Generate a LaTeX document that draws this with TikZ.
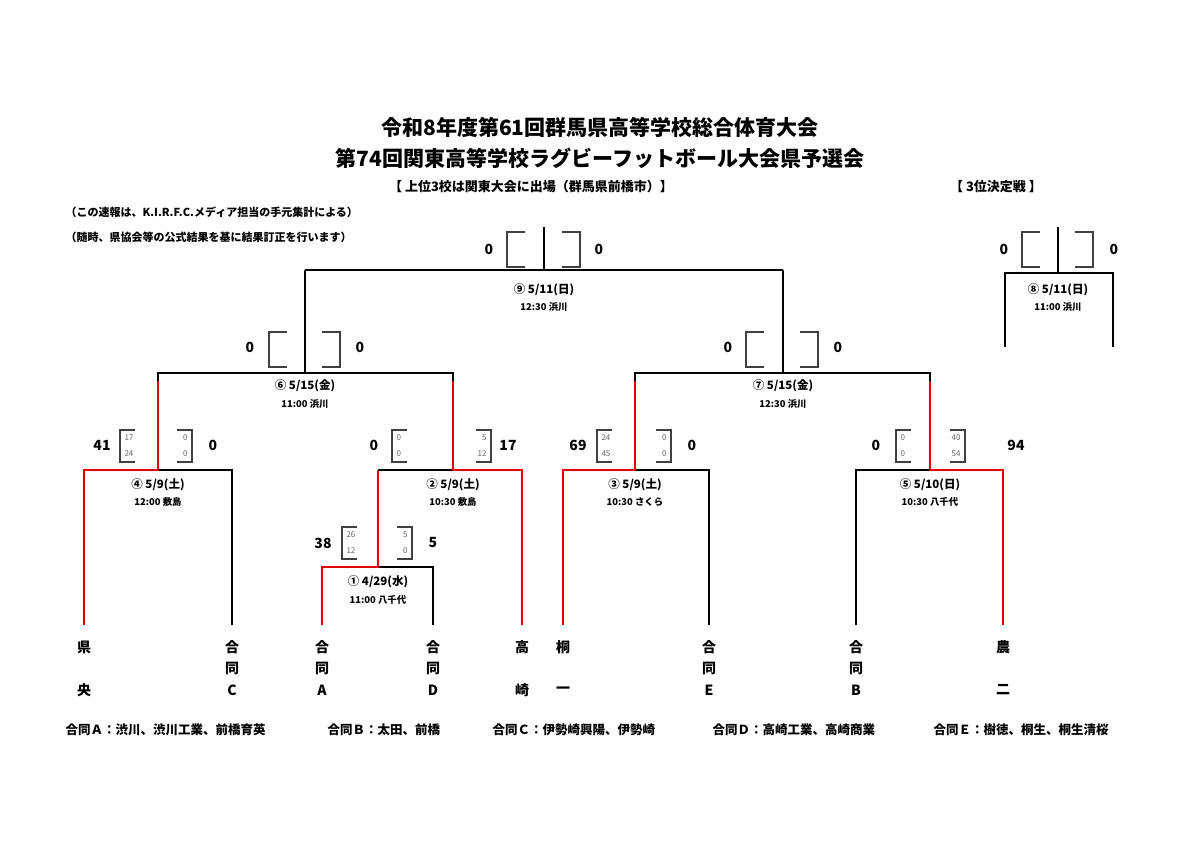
\documentclass[tikz,border=0pt]{standalone}
\usepackage{fontspec}
\setmainfont{Noto Sans CJK JP}
\usepackage{tikz}
\usetikzlibrary{positioning}

\tikzset{
  line/.style={black, line width=1.8pt},
  win/.style={red!90!black, line width=2.6pt},
  box/.style={black!75, line width=1.2pt},
  score/.style={font=\fontsize{14}{14}\selectfont\bfseries},
  small/.style={font=\fontsize{8}{8}\selectfont, text=black!60},
  match/.style={font=\fontsize{11.5}{12}\selectfont\bfseries},
  info/.style={font=\fontsize{9.4}{10}\selectfont\bfseries},
  leaf/.style={font=\fontsize{14}{14}\selectfont\bfseries},
  note/.style={font=\fontsize{12.5}{13}\selectfont\bfseries, anchor=west},
  head/.style={font=\fontsize{11}{12}\selectfont\bfseries, anchor=west},
}

\begin{document}
\begin{tikzpicture}[x=1pt, y=-1pt]
\useasboundingbox[fill=white] (0,0) rectangle (1200,848);

% titles
\node[font=\fontsize{21}{22}\selectfont\bfseries] (t1) at (600,127) {令和8年度第61回群馬県高等学校総合体育大会};
\node[font=\fontsize{21}{22}\selectfont\bfseries] (t2) at (600,158) {第74回関東高等学校ラグビーフットボール大会県予選会};
\node[font=\fontsize{13}{13}\selectfont\bfseries] (sub1) at (531,187) {【 上位3校は関東大会に出場（群馬県前橋市）】};
\node[font=\fontsize{13}{13}\selectfont\bfseries] (sub2) at (996,187) {【 3位決定戦 】};
\node[head] (n1) at (62,212) {（この速報は、K.I.R.F.C.メディア担当の手元集計による）};
\node[head] (n2) at (62,237) {（随時、県協会等の公式結果を基に結果訂正を行います）};

% first round and quarter finals
\draw[line] (232,625) -- (232,470) -- (158,470);
\draw[win] (84,625) -- (84,470) -- (158,470) -- (158,381);
\draw[line] (433,625) -- (433,567) -- (378,567);
\draw[win] (322,625) -- (322,567) -- (378,567) -- (378,470);
\draw[line] (378,470) -- (453,470);
\draw[win] (522,625) -- (522,470) -- (453,470) -- (453,381);
\draw[line] (709,625) -- (709,470) -- (635,470);
\draw[win] (563,625) -- (563,470) -- (635,470) -- (635,381);
\draw[line] (856,625) -- (856,470) -- (930,470);
\draw[win] (1003,625) -- (1003,470) -- (930,470) -- (930,381);

% semi finals and final
\draw[line] (158,381) -- (158,373) -- (453,373) -- (453,381);
\draw[line] (305,373) -- (305,270);
\draw[line] (635,381) -- (635,373) -- (930,373) -- (930,381);
\draw[line] (783,373) -- (783,270);
\draw[line] (305,270) -- (783,270);
\draw[line] (544,270) -- (544,227);
% third place
\draw[line] (1005,347) -- (1005,273) -- (1113,273) -- (1113,347);
\draw[line] (1058,273) -- (1058,227);

% large brackets
\foreach \l/\r/\y in {507/562/232, 269/322/332, 746/800/332, 1022/1075/232}
{
\draw[box] (\l+18,\y) -- (\l,\y) -- (\l,\y+35) -- (\l+18,\y+35);
\draw[box] (\r,\y) -- (\r+18,\y) -- (\r+18,\y+35) -- (\r,\y+35);
}
% small brackets
\foreach \l/\r/\y/\a/\b/\c/\d in {120/177/430/17/24/0/0, 392/476/430/0/0/5/12, 597/656/430/24/45/0/0, 896/950/430/0/0/40/54, 342/397/527/26/12/5/0}
{
\draw[box] (\l+15,\y) -- (\l,\y) -- (\l,\y+32) -- (\l+15,\y+32);
\draw[box] (\r,\y) -- (\r+15,\y) -- (\r+15,\y+32) -- (\r,\y+32);
\node[small, anchor=west] at (\l+1,\y+8) {\a};
\node[small, anchor=west] at (\l+1,\y+24) {\b};
\node[small, anchor=east] at (\r+14,\y+8) {\c};
\node[small, anchor=east] at (\r+14,\y+24) {\d};
}

% scores
\node[score] (s9a) at (489,249) {0};
\node[score] (s9b) at (599,249) {0};
\node[score] (s6a) at (250,347) {0};
\node[score] (s6b) at (360,347) {0};
\node[score] (s7a) at (728,347) {0};
\node[score] (s7b) at (838,347) {0};
\node[score] (s8a) at (1004,249) {0};
\node[score] (s8b) at (1114,249) {0};
\node[score] (s4a) at (102,445) {41};
\node[score] (s4b) at (213,445) {0};
\node[score] (s2a) at (374,445) {0};
\node[score] (s2b) at (508,445) {17};
\node[score] (s3a) at (578,445) {69};
\node[score] (s3b) at (692,445) {0};
\node[score] (s5a) at (876,445) {0};
\node[score] (s5b) at (1016,445) {94};
\node[score] (s1a) at (323,543) {38};
\node[score] (s1b) at (433,543) {5};

% match info
\node[match] (m9) at (544,290) {⑨ 5/11(日)};
\node[info] (m9t) at (544,307) {12:30 浜川};
\node[match] (m6) at (305,386) {⑥ 5/15(金)};
\node[info] (m6t) at (305,404) {11:00 浜川};
\node[match] (m7) at (783,386) {⑦ 5/15(金)};
\node[info] (m7t) at (783,404) {12:30 浜川};
\node[match] (m8) at (1058,290) {⑧ 5/11(日)};
\node[info] (m8t) at (1058,307) {11:00 浜川};
\node[match] (m4) at (158,485) {④ 5/9(土)};
\node[info] (m4t) at (158,502) {12:00 敷島};
\node[match] (m2) at (453,485) {② 5/9(土)};
\node[info] (m2t) at (453,502) {10:30 敷島};
\node[match] (m3) at (635,485) {③ 5/9(土)};
\node[info] (m3t) at (635,502) {10:30 さくら};
\node[match] (m5) at (930,485) {⑤ 5/10(日)};
\node[info] (m5t) at (930,502) {10:30 八千代};
\node[match] (m1) at (378,582) {① 4/29(水)};
\node[info] (m1t) at (378,600) {11:00 八千代};

% teams
\foreach \x/\p/\q/\r in {84/県//央, 232/合/同/C, 322/合/同/A, 433/合/同/D, 522/高//崎, 563/桐//一, 709/合/同/E, 856/合/同/B, 1003/農//二}
{
\node[leaf] at (\x,647) {\p};
\node[leaf] at (\x,668) {\q};
\node[leaf] at (\x,690) {\r};
}

% teams in combination
\node[note] (jA) at (62,730) {合同Ａ：渋川、渋川工業、前橋育英};
\node[note] (jB) at (324,730) {合同Ｂ：太田、前橋};
\node[note] (jC) at (489,730) {合同Ｃ：伊勢崎興陽、伊勢崎};
\node[note] (jD) at (709,730) {合同Ｄ：高崎工業、高崎商業};
\node[note] (jE) at (930,730) {合同Ｅ：樹徳、桐生、桐生清桜};
\end{tikzpicture}
\end{document}
